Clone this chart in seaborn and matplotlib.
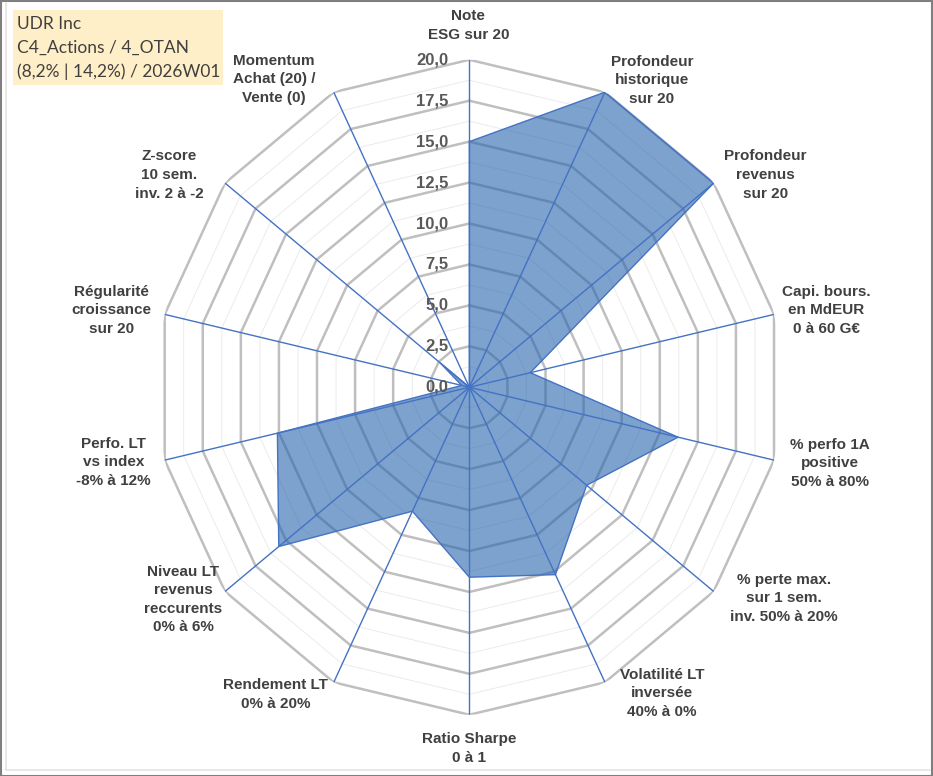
import numpy as np
import pandas as pd
import matplotlib
matplotlib.use("Agg")
import matplotlib.pyplot as plt
from matplotlib.patches import Rectangle
from matplotlib.lines import Line2D
import seaborn as sns

# -----------------------------
# DATA
# -----------------------------
categories = [
    "Note\nESG sur 20",
    "Profondeur\nhistorique\nsur 20",
    "Profondeur\nrevenus\nsur 20",
    "Capi. bours.\nen MdEUR\n0 à 60 G€",
    "% perfo 1A\npositive\n50% à 80%",
    "% perte max.\nsur 1 sem.\ninv. 50% à 20%",
    "Volatilité LT\ninversée\n40% à 0%",
    "Ratio Sharpe\n0 à 1",
    "Rendement LT\n0% à 20%",
    "Niveau LT\nrevenus\nreccurents\n0% à 6%",
    "Perfo. LT\nvs index\n-8% à 12%",
    "Régularité\ncroissance\nsur 20",
    "Z-score\n10 sem.\ninv. 2 à -2",
    "Momentum\nAchat (20) /\nVente (0)",
]
scores = [15.0, 20.0, 20.0, 4.0, 13.7, 9.6, 12.7, 11.6, 8.4, 15.6, 12.6, 0.5, 2.4, 0.0]

tick_values = [0.0, 2.5, 5.0, 7.5, 10.0, 12.5, 15.0, 17.5, 20.0]
tick_labels = ["0,0", "2,5", "5,0", "7,5", "10,0", "12,5", "15,0", "17,5", "20,0"]

info_lines = ["UDR Inc", "C4_Actions / 4_OTAN", "(8,2% | 14,2%) / 2026W01"]

# label offsets from each outer vertex (pixels, x right / y down)
label_offsets = [
    (-1, -34), (47, -12), (52, -8), (52, -4), (56, 3), (70, 7), (57, 11),
    (0, 34), (-58, 12), (-42, 8), (-51, 2), (-53, -4), (-56, -8), (-60, -13),
]

# -----------------------------
# STYLE
# -----------------------------
sns.set_theme(style="white")
plt.rcParams["font.family"] = ["Liberation Sans", "DejaVu Sans"]

W, H = 933, 776
fig = plt.figure(figsize=(W / 100, H / 100), dpi=100, facecolor="white")

ax = fig.add_axes([0.1681, 0.0789, 0.6699, 0.8441], projection="polar")
ax.set_aspect("auto")
ax.set_theta_zero_location("N")
ax.set_theta_direction(-1)
ax.set_ylim(0, 20)
ax.grid(False)
ax.spines["polar"].set_visible(False)
ax.set_xticks([])
ax.set_yticks([])
ax.patch.set_alpha(0)

n = len(categories)
theta = np.arange(n) * 2 * np.pi / n
theta_closed = np.append(theta, 2 * np.pi)

df = pd.DataFrame({"theta": theta_closed, "score": scores + scores[:1]})

# polygon gridlines (major every 2.5, minor in between)
for v in np.arange(1.25, 20.01, 1.25):
    major = abs(v / 2.5 - round(v / 2.5)) < 1e-6
    ax.plot(theta_closed, [v] * (n + 1),
            color="#BFBFBF" if major else "#EBEBEB",
            lw=1.8 if major else 0.7, zorder=1, solid_joinstyle="miter")

# filled series
ax.fill(df["theta"], df["score"], color="#2664AC", alpha=0.6, lw=0, zorder=2)

# spokes
for t in theta:
    ax.plot([t, t], [0, 20], color="#4472C4", lw=1.0, zorder=3)

# outline
sns.lineplot(data=df, x="theta", y="score", sort=False, estimator=None,
             color="#4472C4", lw=1.0, ax=ax, zorder=4)
ax.set_xlabel("")
ax.set_ylabel("")

# radial tick labels along the first spoke
for v, lab in zip(tick_values, tick_labels):
    ax.annotate(lab, xy=(0, v), xytext=(-21, 0), textcoords="offset pixels",
                ha="right", va="center", fontsize=12, fontweight="bold",
                color="#595959", zorder=5, annotation_clip=False)

# category labels
for t, cat, (dx, dy) in zip(theta, categories, label_offsets):
    ax.annotate(cat, xy=(t, 20), xytext=(dx, -dy), textcoords="offset pixels",
                ha="center", va="center", multialignment="center",
                fontsize=11, fontweight="bold", color="#404040",
                linespacing=1.42, annotation_clip=False)

# info box, top left
fig.add_artist(Rectangle((13 / W, 1 - 85 / H), 210 / W, 75 / H,
                         transform=fig.transFigure, facecolor="#FFEFC8",
                         edgecolor="none", zorder=0))
for i, line in enumerate(info_lines):
    fig.text(17 / W, 1 - (24 + 24 * i) / H, line, ha="left", va="center",
             fontsize=12.5, color="#404040", family=["Lato", "DejaVu Sans"])

# chart area border
fig.add_artist(Rectangle((0.5 / W, 0.5 / H), (W - 1.5) / W, (H - 1.5) / H,
                         transform=fig.transFigure, fill=False,
                         edgecolor="#7F7F7F", lw=1.5))
fig.add_artist(Line2D([6 / W, 6 / W], [6 / H, 1 - 3 / H],
                      transform=fig.transFigure, color="#E3E3E3", lw=1.2))
fig.add_artist(Line2D([6 / W, 1 - 3 / W], [6 / H, 6 / H],
                      transform=fig.transFigure, color="#E3E3E3", lw=1.2))

fig.savefig("out.png", dpi=100, facecolor="white")
